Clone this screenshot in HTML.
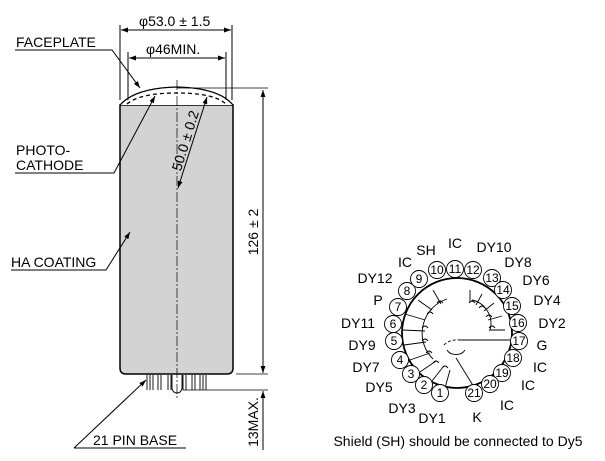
<!DOCTYPE html>
<html><head><meta charset="utf-8"><style>
html,body{margin:0;padding:0;background:#fff;}
svg{display:block;font-family:"Liberation Sans",Arial,sans-serif;}
</style></head><body>
<svg width="605" height="461" viewBox="0 0 605 461" xmlns="http://www.w3.org/2000/svg">
<defs>
<marker id="a" viewBox="0 0 10 10" refX="10" refY="5" markerWidth="7" markerHeight="7" orient="auto-start-reverse"><path d="M0,1.5 L10,5 L0,8.5 z" fill="#000"/></marker>
</defs>
<g stroke="#000" fill="none" stroke-width="1">
<path d="M120,105 L120,368 Q120,374 126,374 L227,374 Q233,374 233,368 L233,105 Z" fill="#d3d3d3" stroke-width="1.5"/>
<path d="M120,105 Q135,88 177,87 Q219,88 233,105" fill="#fff" stroke-width="1.3"/>
<path d="M127,104 Q140,93 177,93 Q214,93 226,104" stroke-dasharray="4,3" stroke-width="1.3"/>
<line x1="177" y1="80" x2="177" y2="400" stroke-dasharray="10,2,2,2" stroke-width="0.7"/>
<g stroke-width="0.9">
<path d="M147,375v15M150,375v15M153,375v15M158,375v15M161,375v15M168,375v15M171,375v15M183,375v15M186,375v15M192,375v15M195,375v15M200,375v15M203,375v15M206,375v15"/>
<path d="M172,375 v13 a5,5 0 0 0 10,0 v-13"/>
</g>
<line x1="120" y1="25" x2="120" y2="100"/>
<line x1="232" y1="25" x2="232" y2="100"/>
<line x1="128" y1="52" x2="128" y2="100"/>
<line x1="226" y1="52" x2="226" y2="100"/>
<line x1="121" y1="30" x2="231" y2="30" marker-start="url(#a)" marker-end="url(#a)"/>
<line x1="129" y1="58" x2="225" y2="58" marker-start="url(#a)" marker-end="url(#a)"/>
<line x1="177" y1="88" x2="268" y2="88" stroke-width="0.7"/>
<line x1="263" y1="90" x2="263" y2="373" marker-start="url(#a)" marker-end="url(#a)"/>
<line x1="236" y1="374" x2="268" y2="374" stroke-width="0.7"/>
<line x1="183" y1="390" x2="268" y2="390" stroke-width="0.7"/>
<line x1="263" y1="391" x2="263" y2="450" marker-start="url(#a)"/>
<line x1="207" y1="97" x2="178" y2="188" marker-start="url(#a)" marker-end="url(#a)"/>
<polyline points="15,50 112,50 140,88" marker-end="url(#a)"/>
<polyline points="15,173 114,173 155,96" marker-end="url(#a)"/>
<polyline points="11,270 106,270 130,232" marker-end="url(#a)"/>
<line x1="74" y1="448" x2="186" y2="448"/>
<line x1="74" y1="448" x2="146" y2="380" marker-end="url(#a)"/>
</g>
<g font-size="14" fill="#000">
<text x="16" y="47">FACEPLATE</text>
<text x="16" y="155">PHOTO-</text>
<text x="16" y="170">CATHODE</text>
<text x="11" y="267">HA COATING</text>
<text x="93" y="445">21 PIN BASE</text>
<text x="139" y="26">φ53.0 ± 1.5</text>
<text x="146" y="54">φ46MIN.</text>
<text transform="translate(258,232) rotate(-90)" text-anchor="middle">126 ± 2</text>
<text transform="translate(258,422) rotate(-90)" text-anchor="middle">13MAX.</text>
<text transform="translate(190,142) rotate(-73)" text-anchor="middle">50.0 ± 0.2</text>
</g>
<g stroke="#000" fill="none">
<circle cx="457" cy="333" r="55" stroke-width="1.8"/>
<g stroke-width="0.9">
<line x1="510" y1="340" x2="460" y2="340"/>
<path d="M444,345 q6,-6 16,-5" stroke-dasharray="3,2"/>
<path d="M447,350 a10,8 0 0 0 18,0"/>
<line x1="456" y1="358" x2="474" y2="387"/>
<path d="M447,299 a36,36 0 0 0 -14,60"/>
<path d="M433,290 l8,14 M418,300 l14,10 M405,314 l20,6 M403,330 l22,1 M404,345 l22,-3 M410,360 l20,-7 M420,372 l16,-11 M432,381 l11,-14 M445,388 l5,-18"/>
<path d="M470,290 l0,12 M482,294 l-6,11 M494,303 l-10,8 M502,316 l-14,4 M505,330 l-16,0"/>
<path d="M472,300 a24,24 0 0 1 18,30"/>
<path d="M437,303 q3,-4 6,0 M427,314 q3,-4 6,0 M422,328 q3,-4 6,0 M422,341 q3,-4 6,0 M426,353 q3,-4 6,0 M433,363 q3,-4 6,0 M442,368 q3,-4 6,0"/>
<path d="M469,303 q3,-4 6,0 M479,308 q3,-4 6,0 M486,317 q3,-4 6,0 M489,328 q3,-4 6,0"/>
</g>
<g stroke-width="0.9" fill="#fff">
<circle cx="440" cy="393" r="8.5"/><circle cx="424" cy="385" r="8.5"/><circle cx="411" cy="374" r="8.5"/><circle cx="400" cy="360" r="8.5"/><circle cx="394" cy="341" r="8.5"/><circle cx="393" cy="324" r="8.5"/><circle cx="398" cy="307" r="8.5"/><circle cx="407" cy="291" r="8.5"/><circle cx="419" cy="279" r="8.5"/><circle cx="437" cy="270" r="8.5"/><circle cx="455" cy="269" r="8.5"/><circle cx="473" cy="270" r="8.5"/><circle cx="492" cy="278" r="8.5"/><circle cx="503" cy="290" r="8.5"/><circle cx="512" cy="306" r="8.5"/><circle cx="518" cy="323" r="8.5"/><circle cx="519" cy="341" r="8.5"/><circle cx="513" cy="358" r="8.5"/><circle cx="502" cy="373" r="8.5"/><circle cx="490" cy="384" r="8.5"/><circle cx="474" cy="393" r="8.5"/>
</g>
</g>
<g font-size="12" fill="#000" text-anchor="middle">
<text x="440" y="397">1</text><text x="424" y="389">2</text><text x="411" y="378">3</text><text x="400" y="364">4</text><text x="394" y="345">5</text><text x="393" y="328">6</text><text x="398" y="311">7</text><text x="407" y="295">8</text><text x="419" y="283">9</text><text x="437" y="274">10</text><text x="455" y="273">11</text><text x="473" y="274">12</text><text x="492" y="282">13</text><text x="503" y="294">14</text><text x="512" y="310">15</text><text x="518" y="327">16</text><text x="519" y="345">17</text><text x="513" y="362">18</text><text x="502" y="377">19</text><text x="490" y="388">20</text><text x="474" y="397">21</text>
</g>
<g font-size="14" fill="#000" text-anchor="middle">
<text x="426" y="255">SH</text><text x="455" y="248">IC</text><text x="494" y="252">DY10</text><text x="518" y="267">DY8</text><text x="536" y="285">DY6</text><text x="547" y="305">DY4</text><text x="552" y="328">DY2</text><text x="542" y="350">G</text><text x="540" y="372">IC</text><text x="528" y="390">IC</text><text x="507" y="410">IC</text><text x="477" y="422">K</text><text x="432" y="423">DY1</text><text x="402" y="413">DY3</text><text x="379" y="392">DY5</text><text x="366" y="372">DY7</text><text x="362" y="350">DY9</text><text x="358" y="328">DY11</text><text x="378" y="305">P</text><text x="375" y="283">DY12</text><text x="405" y="267">IC</text>
<text x="458" y="446" font-size="14">Shield (SH) should be connected to Dy5</text>
</g>
</svg>
</body></html>
